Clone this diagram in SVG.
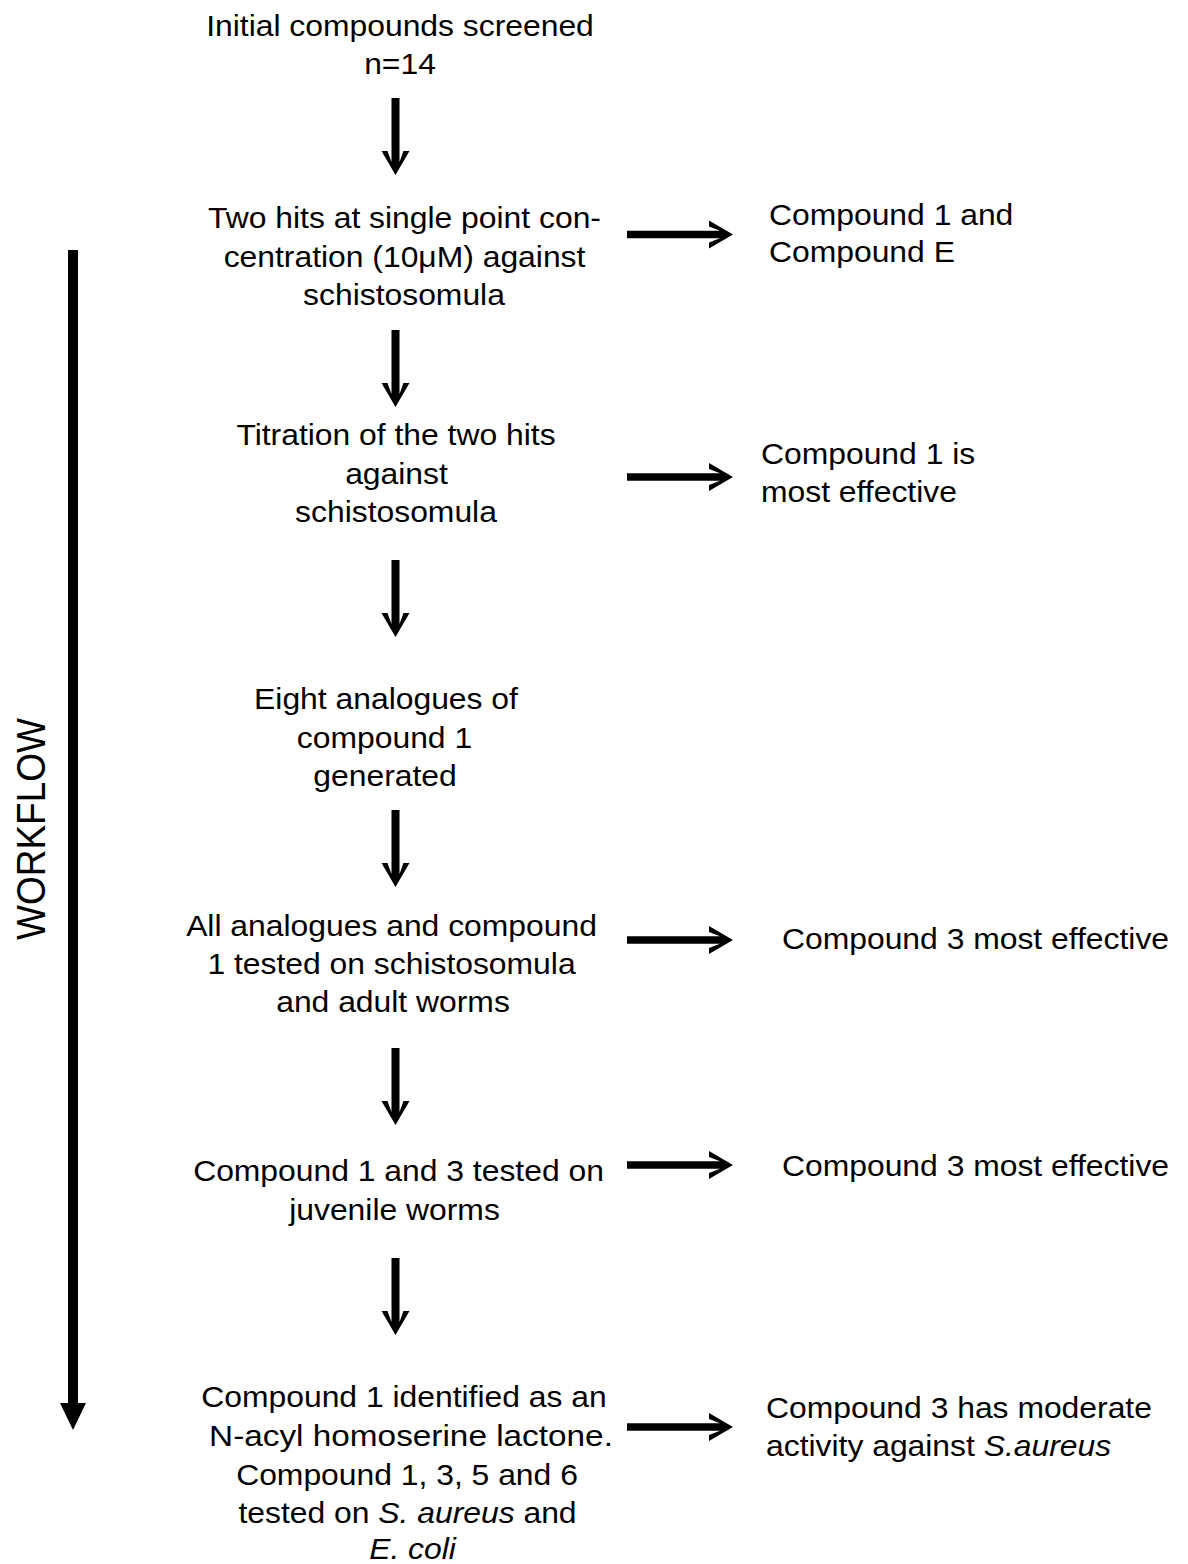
<svg xmlns="http://www.w3.org/2000/svg" xmlns:xlink="http://www.w3.org/1999/xlink" width="1188" height="1564" viewBox="0 0 1188 1564">
<style>
text{font-family:"Liberation Sans",Arial,Helvetica,sans-serif;font-size:29.5px;fill:#000}
.c{text-anchor:middle}
.l{text-anchor:start}
.i{font-style:italic}
.arr{fill:#000}
</style>
<defs>
<path id="down" class="arr" d="M-4,-77 H4 V-13 L8,-24 H14 L0,0 L-14,-24 H-8 L-4,-13 Z"/>
<path id="right" class="arr" d="M-106,-3.75 H-13 L-24,-8 V-14 L0,0 L-24,14 V8 L-13,3.75 H-106 Z"/>
</defs>
<rect width="1188" height="1564" fill="#fff"/>
<g id="workflow">
<path class="arr" d="M68,250 H78 V1403 H86 L73,1430 L60,1403 H68 Z"/>
<text class="c" style="font-size:40px" transform="translate(45,829) rotate(-90) scale(0.925,1)">WORKFLOW</text>
</g>
<g id="connectors">
<use xlink:href="#down" transform="translate(395.5,175)"/>
<use xlink:href="#down" transform="translate(395.5,407)"/>
<use xlink:href="#down" transform="translate(395.5,637)"/>
<use xlink:href="#down" transform="translate(395.5,887)"/>
<use xlink:href="#down" transform="translate(395.5,1125)"/>
<use xlink:href="#down" transform="translate(395.5,1335)"/>
<use xlink:href="#right" transform="translate(733,234.5)"/>
<use xlink:href="#right" transform="translate(733,477)"/>
<use xlink:href="#right" transform="translate(733,940)"/>
<use xlink:href="#right" transform="translate(733,1165)"/>
<use xlink:href="#right" transform="translate(733,1427)"/>
</g>
<g id="n-initial">
<text class="c" transform="translate(400,35.5) scale(1.08,1)">Initial compounds screened</text>
<text class="c" transform="translate(400,73.5) scale(1.08,1)">n=14</text>
</g>
<g id="n-twohits">
<text class="c" transform="translate(404.5,228) scale(1.08,1)">Two hits at single point con-</text>
<text class="c" transform="translate(404.5,266.5) scale(1.08,1)">centration (10μM) against</text>
<text class="c" transform="translate(404,305) scale(1.08,1)">schistosomula</text>
</g>
<g id="r-twohits">
<text class="l" transform="translate(769,225) scale(1.08,1)">Compound 1 and</text>
<text class="l" transform="translate(769,262) scale(1.08,1)">Compound E</text>
</g>
<g id="n-titration">
<text class="c" transform="translate(396,445) scale(1.08,1)">Titration of the two hits</text>
<text class="c" transform="translate(396.5,484) scale(1.08,1)">against</text>
<text class="c" transform="translate(396,522) scale(1.08,1)">schistosomula</text>
</g>
<g id="r-titration">
<text class="l" transform="translate(761,464) scale(1.08,1)">Compound 1 is</text>
<text class="l" transform="translate(761,502) scale(1.08,1)">most effective</text>
</g>
<g id="n-analogues">
<text class="c" transform="translate(386,709) scale(1.08,1)">Eight analogues of</text>
<text class="c" transform="translate(384.5,748) scale(1.08,1)">compound 1</text>
<text class="c" transform="translate(385,786) scale(1.08,1)">generated</text>
</g>
<g id="n-alltested">
<text class="c" transform="translate(391.5,936) scale(1.08,1)">All analogues and compound</text>
<text class="c" transform="translate(391.5,974) scale(1.08,1)">1 tested on schistosomula</text>
<text class="c" transform="translate(393,1012) scale(1.08,1)">and adult worms</text>
</g>
<g id="r-alltested">
<text class="l" transform="translate(782,949) scale(1.08,1)">Compound 3 most effective</text>
</g>
<g id="n-juvenile">
<text class="c" transform="translate(398.5,1181) scale(1.08,1)">Compound 1 and 3 tested on</text>
<text class="c" transform="translate(394.5,1220) scale(1.08,1)">juvenile worms</text>
</g>
<g id="r-juvenile">
<text class="l" transform="translate(782,1176) scale(1.08,1)">Compound 3 most effective</text>
</g>
<g id="n-lactone">
<text class="c" transform="translate(404,1407) scale(1.08,1)">Compound 1 identified as an</text>
<text class="c" transform="translate(411,1446) scale(1.13,1)">N-acyl homoserine lactone.</text>
<text class="c" transform="translate(407,1485) scale(1.08,1)">Compound 1, 3, 5 and 6</text>
<text class="c" transform="translate(407.5,1523) scale(1.08,1)">tested on <tspan class="i">S. aureus</tspan> and</text>
<text class="c i" transform="translate(412.5,1559) scale(1.08,1)">E. coli</text>
</g>
<g id="r-lactone">
<text class="l" transform="translate(766,1418) scale(1.08,1)">Compound 3 has moderate</text>
<text class="l" transform="translate(766,1456) scale(1.08,1)">activity against <tspan class="i">S.aureus</tspan></text>
</g>
</svg>
